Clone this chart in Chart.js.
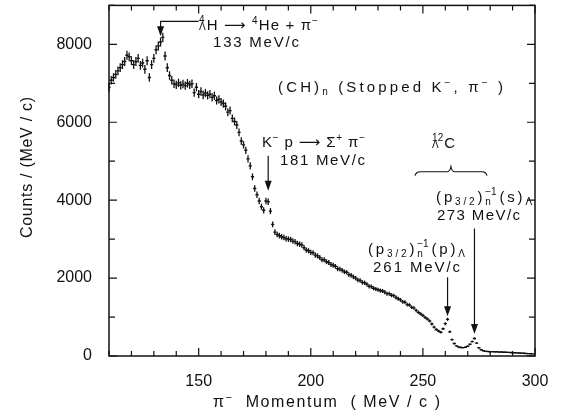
<!DOCTYPE html>
<html>
<head>
<meta charset="utf-8">
<script src="https://cdn.jsdelivr.net/npm/chart.js@4.4.1/dist/chart.umd.min.js"></script>
<style>
html, body { margin: 0; padding: 0; background: #fff; }
#wrap { width: 561px; height: 419px; }
</style>
</head>
<body>
<div id="wrap"><canvas id="spectrum" width="561" height="419"></canvas></div>
<script>
// pi- momentum spectrum, stopped K- on (CH)n, 1 MeV/c bins from 110 MeV/c
const binStart = 110;
const binWidth = 1;
const counts = [
    6900, 7080, 7150, 7230, 7320, 7400, 7480, 7560, 7720, 7680,   // 110
    7580, 7480, 7560, 7640, 7460, 7520, 7360, 7580, 7150, 7480,   // 120
    7640, 7860, 7960, 8060, 8180, 7700, 7400, 7200, 7080, 6990,   // 130
    6960, 7010, 6950, 6980, 6940, 7000, 6960, 6990, 6760, 6900,   // 140
    6720, 6790, 6700, 6750, 6690, 6720, 6640, 6680, 6560, 6590,   // 150
    6520, 6480, 6410, 6260, 6300, 6100, 6020, 5930, 5740, 5520,   // 160
    5420, 5280, 5060, 4880, 4600, 4300, 4140, 3980, 3830, 3740,   // 170
    3980, 3960, 3720, 3380, 3180, 3120, 3090, 3060, 3040, 3010,   // 180
    3000, 2990, 2950, 2930, 2890, 2870, 2850, 2780, 2720, 2700,   // 190
    2660, 2650, 2590, 2570, 2530, 2470, 2470, 2420, 2400, 2350,   // 200
    2330, 2300, 2240, 2230, 2200, 2160, 2150, 2090, 2070, 2030,   // 210
    2000, 1950, 1940, 1890, 1880, 1840, 1790, 1780, 1740, 1720,   // 220
    1700, 1680, 1670, 1640, 1600, 1600, 1560, 1550, 1500, 1470,   // 230
    1440, 1390, 1380, 1320, 1310, 1250, 1230, 1170, 1120, 1080,   // 240
    1040, 990, 950, 900, 820, 740, 680, 640, 610, 700,            // 250
    830, 940, 620, 420, 320, 260, 230, 220, 215, 225,             // 260
    250, 300, 370, 450, 330, 210, 160, 135, 120, 115,             // 270
    110, 112, 105, 108, 100, 104, 98, 95, 92, 90,                 // 280
    85, 82, 80, 76, 74, 70, 66, 62, 58, 55                        // 290
];
const momentum = counts.map((c, i) => binStart + i * binWidth);
const xLabels = [150, 200, 250, 300];
const yLabels = [0, 2000, 4000, 6000, 8000];

const FONT = "'Liberation Sans', 'DejaVu Sans', Arial, sans-serif";
const INK = '#111';

const sup = t => ({ t: t, dy: -6 });
const sub = t => ({ t: t, dy: 3 });
const stack = (top, bot, dyTop, dyBot) => ({ stack: [top, bot], dys: [dyTop, dyBot] });

// text blocks, placed in data units (left x, right x or null for natural spacing, baseline y)
const notes = [
    { parts: [stack('4', 'Λ', -7, 0), 'H', ' ', '⟶', ' ', sup('4'), 'He', ' ', '+', ' ', 'π', sup('−')], x0: 150.1, x1: 203.2, y: 8361 },
    { parts: ['133 MeV/c'], x0: 156.4, x1: 194.7, y: 7926 },
    { parts: ['(CH)', sub('n'), ' (Stopped K', sup('−'), ', π', sup('−'), ' )'], x0: 185.4, x1: 285.7, y: 6776 },
    { parts: ['K', sup('−'), ' p ', '⟶', ' Σ', sup('+'), ' π', sup('−')], x0: 178.2, x1: 224.2, y: 5369 },
    { parts: ['181 MeV/c'], x0: 186.3, x1: 224.2, y: 4909 },
    { parts: [stack('12', 'Λ', -7, 0), 'C'], x0: 254.1, x1: null, y: 5344 },
    { parts: ['(p', sub('3/2'), ')', stack('−1', 'n', -7, 3), '(s)', sub('Λ')], x0: 255.9, x1: 298.7, y: 3963 },
    { parts: ['273 MeV/c'], x0: 256.3, x1: 293.3, y: 3503 },
    { parts: ['(p', sub('3/2'), ')', stack('−1', 'n', -7, 3), '(p)', sub('Λ')], x0: 225.5, x1: 268.8, y: 2608 },
    { parts: ['261 MeV/c'], x0: 227.8, x1: 266.6, y: 2148 }
];
const arrows = [
    { x: 133, from: 8591, to: 8207, leadTo: 150 },
    { x: 181, from: 5139, to: 4244 },
    { x: 261, from: 2020, to: 1023 },
    { x: 273, from: 3273, to: 562 }
];
const brace = { x0: 246.5, xm: 262.5, x1: 278.6, yEnd: 4628, yLine: 4730, yTip: 4858 };

function units(parts, big) {
    const small = Math.round(big * 0.66);
    const out = [];
    parts.forEach(p => {
        if (typeof p === 'string') {
            for (const ch of p) out.push({ ch: ch, size: big, dy: 0 });
        } else if (p.stack) {
            out.push({ stack: p.stack, dys: p.dys, size: small });
        } else {
            for (const ch of p.t) out.push({ ch: ch, size: small, dy: p.dy });
        }
    });
    return out;
}

function drawRich(ctx, parts, left, right, base, big) {
    const us = units(parts, big);
    let total = 0;
    us.forEach(u => {
        ctx.font = u.size + 'px ' + FONT;
        if (u.stack) {
            u.w = Math.max(ctx.measureText(u.stack[0]).width, ctx.measureText(u.stack[1]).width);
        } else {
            u.w = ctx.measureText(u.ch).width;
        }
        total += u.w;
    });
    let gap = 1;
    if (right !== null && us.length > 1) gap = (right - left - total) / (us.length - 1);
    let x = left;
    ctx.textAlign = 'left';
    ctx.textBaseline = 'alphabetic';
    us.forEach(u => {
        ctx.font = u.size + 'px ' + FONT;
        if (u.stack) {
            ctx.fillText(u.stack[0], x, base + u.dys[0]);
            ctx.fillText(u.stack[1], x, base + u.dys[1]);
        } else {
            ctx.fillText(u.ch, x, base + u.dy);
        }
        x += u.w + gap;
    });
}

function arrowHead(ctx, x, y) {
    ctx.beginPath();
    ctx.moveTo(x, y);
    ctx.lineTo(x - 3.5, y - 10);
    ctx.lineTo(x + 3.5, y - 10);
    ctx.closePath();
    ctx.fill();
}

const errorBars = {
    id: 'errorBars',
    afterDatasetsDraw(chart) {
        const ctx = chart.ctx, y = chart.scales.y;
        const meta = chart.getDatasetMeta(0);
        ctx.save();
        ctx.strokeStyle = INK;
        ctx.lineWidth = 1.3;
        meta.data.forEach((pt, i) => {
            const v = counts[i], e = 1.3 * Math.sqrt(v);
            ctx.beginPath();
            ctx.moveTo(pt.x, y.getPixelForValue(v + e));
            ctx.lineTo(pt.x, y.getPixelForValue(v - e));
            ctx.stroke();
        });
        ctx.restore();
    }
};

const frame = {
    id: 'frame',
    afterDraw(chart) {
        const { ctx, chartArea: a, scales: { x, y } } = chart;
        ctx.save();
        ctx.strokeStyle = INK;
        ctx.fillStyle = INK;
        ctx.lineWidth = 1.5;
        ctx.strokeRect(a.left, a.top, a.right - a.left, a.bottom - a.top);
        ctx.lineWidth = 1.2;
        x.ticks.forEach(t => {
            const px = x.getPixelForValue(t.value);
            const len = t.value % 50 === 0 ? 8 : 5;
            ctx.beginPath();
            ctx.moveTo(px, a.bottom); ctx.lineTo(px, a.bottom - len);
            ctx.moveTo(px, a.top); ctx.lineTo(px, a.top + len);
            ctx.stroke();
        });
        y.ticks.forEach(t => {
            const py = y.getPixelForValue(t.value);
            const len = t.value % 2000 === 0 ? 8 : 6;
            ctx.beginPath();
            ctx.moveTo(a.left, py); ctx.lineTo(a.left + len, py);
            ctx.moveTo(a.right, py); ctx.lineTo(a.right - len, py);
            ctx.stroke();
        });

        // axis titles
        drawRich(ctx, ['π', sup('−'), '  Momentum  ( MeV / c )'], 213, 440, 407, 16);
        ctx.save();
        ctx.translate(32, 238);
        ctx.rotate(-Math.PI / 2);
        drawRich(ctx, ['Counts / (MeV / c)'], 0, 141, 0, 16);
        ctx.restore();

        // annotations
        notes.forEach(n => {
            const right = n.x1 === null ? null : x.getPixelForValue(n.x1);
            drawRich(ctx, n.parts, x.getPixelForValue(n.x0), right, y.getPixelForValue(n.y), 15);
        });
        ctx.lineWidth = 1.2;
        arrows.forEach(ar => {
            const px = x.getPixelForValue(ar.x);
            const top = y.getPixelForValue(ar.from), tip = y.getPixelForValue(ar.to);
            ctx.beginPath();
            if (ar.leadTo) {
                ctx.moveTo(x.getPixelForValue(ar.leadTo), top);
                ctx.lineTo(px, top);
            } else {
                ctx.moveTo(px, top);
            }
            ctx.lineTo(px, tip - 8);
            ctx.stroke();
            arrowHead(ctx, px, tip);
        });
        const bx0 = x.getPixelForValue(brace.x0), bx1 = x.getPixelForValue(brace.x1), bm = x.getPixelForValue(brace.xm);
        const be = y.getPixelForValue(brace.yEnd), bl = y.getPixelForValue(brace.yLine), bt = y.getPixelForValue(brace.yTip);
        ctx.beginPath();
        ctx.moveTo(bx0, be);
        ctx.quadraticCurveTo(bx0 + 1, bl, bx0 + 5, bl);
        ctx.lineTo(bm - 4, bl);
        ctx.quadraticCurveTo(bm - 1, bl, bm, bt);
        ctx.quadraticCurveTo(bm + 1, bl, bm + 4, bl);
        ctx.lineTo(bx1 - 5, bl);
        ctx.quadraticCurveTo(bx1 - 1, bl, bx1, be);
        ctx.stroke();
        ctx.restore();
    }
};

new Chart(document.getElementById('spectrum'), {
    type: 'scatter',
    data: {
        datasets: [{
            data: momentum.map((m, i) => ({ x: m, y: counts[i] })),
            pointStyle: 'line',
            pointRadius: 1.6,
            borderWidth: 1.4,
            borderColor: INK,
            backgroundColor: INK
        }]
    },
    options: {
        responsive: false,
        animation: false,
        devicePixelRatio: 1,
        layout: { padding: { top: 4, right: 26, left: 0, bottom: 0 } },
        plugins: { legend: { display: false }, tooltip: { enabled: false } },
        scales: {
            x: {
                type: 'linear', min: 110, max: 300,
                grid: { display: false }, border: { display: false },
                ticks: {
                    stepSize: 10, autoSkip: false, maxRotation: 0, padding: 8,
                    color: INK, font: { family: FONT, size: 16 },
                    callback: v => xLabels.includes(v) ? String(v) : ''
                },
                afterFit: s => { s.height = 63; s.paddingLeft = 0; s.paddingRight = 0; }
            },
            y: {
                min: 0, max: 9000,
                grid: { display: false }, border: { display: false },
                ticks: {
                    stepSize: 1000, autoSkip: false, padding: 9,
                    color: INK, font: { family: FONT, size: 16 },
                    callback: v => yLabels.includes(v) ? String(v) : ''
                },
                afterFit: s => { s.width = 109; s.paddingTop = 0; s.paddingBottom = 0; }
            }
        }
    },
    plugins: [errorBars, frame]
});
</script>
</body>
</html>
